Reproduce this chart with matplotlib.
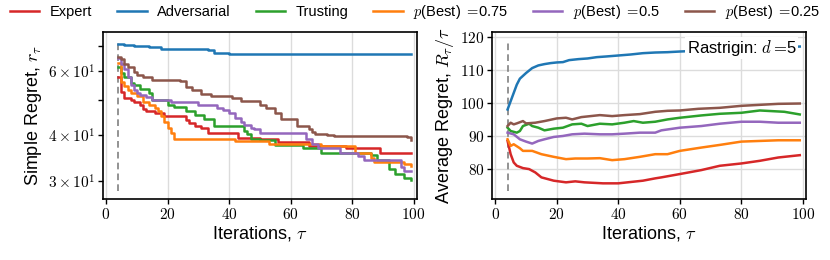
import matplotlib
matplotlib.use("Agg")
import matplotlib.pyplot as plt
from matplotlib.ticker import FuncFormatter, FixedLocator, NullFormatter
import numpy as np

plt.rcParams['font.family'] = ['Liberation Sans', 'DejaVu Sans']
plt.rcParams['mathtext.fontset'] = 'cm'

labels = ["Expert", "Adversarial", "Trusting",
          r"$p$(Best) $=\!$0.75", r"$p$(Best) $=\!$0.5", r"$p$(Best) $=\!$0.25"]
colors = ["#d62728", "#1f77b4", "#2ca02c", "#ff7f0e", "#9467bd", "#8c564b"]

# simple regret: step change points (iteration, value)
simple_expert = [(4, 57.5), (5, 52.5), (6, 50.5), (8, 50.0), (9, 49.4), (11, 48.5), (12, 47.3),
                 (13, 46.5), (16, 46.0), (19, 45.1), (26, 44.0), (27, 43.3), (29, 42.5), (31, 41.8),
                 (33, 40.7), (43, 39.3), (50, 39.1), (56, 38.3), (66, 37.4), (78, 37.0), (89, 35.9),
                 (99, 35.7)]
simple_adversarial = [(4, 70.8), (6, 70.5), (9, 70.2), (14, 69.5), (18, 68.7), (33, 68.3),
                      (35, 67.2), (40, 66.8), (70, 66.7), (99, 66.6)]
simple_trusting = [(4, 61.5), (5, 59.2), (6, 57.8), (8, 55.6), (9, 54.9), (11, 53.5), (14, 52.1),
                   (15, 50.0), (20, 48.5), (22, 47.9), (26, 46.6), (29, 45.4), (32, 44.2), (35, 42.3),
                   (45, 41.1), (46, 40.3), (47, 39.2), (50, 38.8), (55, 37.6), (64, 37.0), (70, 35.9),
                   (86, 35.3), (88, 34.2), (92, 32.3), (94, 31.3), (97, 30.6), (99, 30.3)]
simple_p075 = [(4, 62.8), (5, 56.0), (6, 54.5), (7, 53.2), (8, 52.1), (10, 51.1), (12, 49.4),
               (14, 48.5), (16, 47.6), (17, 46.5), (18, 45.1), (19, 43.6), (20, 41.8), (21, 40.5),
               (22, 39.2), (40, 39.0), (42, 38.6), (53, 37.9), (70, 37.3), (81, 35.9), (86, 34.8),
               (87, 33.9), (97, 33.5), (99, 33.0)]
simple_p05 = [(4, 64.8), (5, 62.5), (6, 60.5), (7, 57.6), (8, 55.0), (9, 53.2), (10, 52.1),
              (11, 51.6), (13, 51.0), (15, 50.0), (21, 49.4), (30, 48.3), (36, 47.4), (38, 47.0),
              (40, 46.0), (42, 44.6), (44, 43.4), (45, 42.6), (47, 42.0), (48, 41.5), (50, 40.7),
              (65, 39.0), (67, 38.0), (69, 37.0), (76, 35.9), (82, 35.2), (84, 34.3), (96, 32.9),
              (97, 31.9), (99, 31.9)]
simple_p025 = [(4, 65.5), (5, 64.5), (6, 62.5), (7, 61.5), (9, 59.5), (10, 58.4), (12, 57.8),
               (15, 56.6), (24, 56.1), (26, 54.2), (28, 53.2), (31, 52.0), (34, 51.3), (41, 50.5),
               (44, 49.6), (50, 48.4), (52, 47.4), (55, 46.0), (57, 44.3), (62, 42.5), (66, 41.7),
               (67, 40.8), (68, 40.3), (72, 40.0), (74, 39.8), (98, 39.7), (99, 38.8)]

# average regret: (iteration, value)
avg_expert = [(4, 88.5), (5, 84.5), (6, 82.0), (7, 81.0), (9, 80.3), (11, 80.0), (13, 79.0),
              (15, 77.5), (19, 76.5), (23, 76.0), (26, 76.3), (29, 76.0), (35, 75.7), (40, 75.7),
              (43, 76.0), (48, 76.5), (52, 77.2), (54, 77.5), (60, 78.5), (67, 79.7), (73, 81.0),
              (80, 81.7), (86, 82.5), (92, 83.5), (99, 84.2)]
avg_adversarial = [(4, 98.0), (5, 100.5), (6, 103.0), (7, 105.5), (8, 107.3), (10, 109.0),
                   (12, 110.5), (14, 111.3), (16, 111.7), (18, 112.0), (20, 112.2), (22, 112.3),
                   (24, 112.9), (27, 113.2), (30, 113.4), (33, 113.8), (36, 114.0), (40, 114.3),
                   (44, 114.6), (48, 115.0), (52, 115.2), (56, 115.3), (60, 115.5), (70, 115.9),
                   (80, 116.3), (90, 116.7), (99, 117.0)]
avg_trusting = [(4, 92.5), (5, 91.5), (7, 91.0), (8, 91.5), (9, 93.0), (11, 93.7), (12, 93.0),
                (14, 92.5), (16, 91.7), (19, 92.2), (22, 92.5), (25, 93.5), (28, 93.7), (30, 93.0),
                (34, 93.7), (38, 93.5), (42, 94.0), (45, 94.5), (48, 94.0), (52, 94.3), (56, 95.0),
                (60, 95.5), (67, 96.2), (73, 96.7), (80, 97.0), (86, 97.7), (90, 97.5), (94, 97.3),
                (99, 96.5)]
avg_p075 = [(4, 89.0), (5, 87.0), (6, 87.5), (8, 86.3), (9, 85.5), (12, 85.5), (15, 84.5),
            (19, 83.7), (23, 83.0), (26, 83.2), (30, 83.2), (34, 83.3), (38, 82.7), (42, 83.0),
            (47, 83.7), (52, 84.5), (56, 84.5), (60, 85.5), (67, 86.5), (73, 87.3), (80, 88.3),
            (86, 88.5), (92, 88.7), (99, 88.7)]
avg_p05 = [(4, 91.0), (6, 90.5), (8, 89.0), (10, 88.3), (12, 87.7), (14, 88.5), (16, 89.0),
           (19, 89.7), (22, 90.0), (25, 90.5), (29, 90.7), (34, 90.5), (38, 90.5), (42, 90.7),
           (47, 91.0), (52, 91.0), (54, 91.7), (60, 92.5), (67, 93.0), (73, 93.7), (80, 94.3),
           (86, 94.3), (92, 94.0), (99, 94.0)]
avg_p025 = [(4, 93.0), (5, 94.0), (6, 93.5), (7, 93.8), (9, 94.5), (10, 93.8), (13, 94.0),
            (16, 94.5), (20, 95.3), (23, 95.5), (25, 95.0), (28, 95.7), (31, 96.0), (34, 96.3),
            (38, 96.0), (42, 96.3), (47, 96.6), (52, 97.3), (56, 97.6), (60, 97.7), (66, 98.2),
            (73, 98.5), (80, 99.1), (86, 99.4), (92, 99.7), (99, 99.8)]

simple_all = [simple_expert, simple_adversarial, simple_trusting, simple_p075, simple_p05, simple_p025]
avg_all = [avg_expert, avg_adversarial, avg_trusting, avg_p075, avg_p05, avg_p025]

x_ticks = [0, 20, 40, 60, 80, 100]
avg_ticks = [80, 90, 100, 110, 120]
log_minor = [30, 40, 50, 60, 70]
log_labelled = [30, 40, 60]

fig = plt.figure(figsize=(8.3, 2.6), dpi=100)
ax1 = fig.add_axes([0.124, 0.235, 0.378, 0.642])
ax2 = fig.add_axes([0.593, 0.235, 0.378, 0.642])

for s, c, lab in zip(simple_all, colors, labels):
    x, y = np.array(s).T
    ax1.step(x, y, where='post', color=c, lw=1.8, label=lab)
for s, c in zip(avg_all, colors):
    x, y = np.array(s).T
    ax2.plot(x, y, color=c, lw=1.8)

ax1.set_yscale('log')
ax1.set_ylim(26.85, 76.5)
ax1.yaxis.set_minor_locator(FixedLocator(log_minor))
ax1.yaxis.set_major_formatter(NullFormatter())
ax1.yaxis.set_minor_formatter(FuncFormatter(
    lambda v, p: r"$%d\times10^{1}$" % round(v / 10) if round(v) in log_labelled else ""))

ax2.set_ylim(71, 121.4)
ax2.set_yticks(avg_ticks)
ax2.yaxis.set_major_formatter(FuncFormatter(lambda v, p: r"$%d$" % v))

for ax in (ax1, ax2):
    ax.set_xlim(-1, 101)
    ax.set_xticks(x_ticks)
    ax.xaxis.set_major_formatter(FuncFormatter(lambda v, p: r"$%d$" % v))
    ax.axvline(4, ymin=0.05, ymax=0.95, color='gray', ls='--', lw=1.2, dashes=(4, 2.5), zorder=1)
    ax.grid(True, color='#dcdcdc', lw=1.0, zorder=0)
    ax.set_axisbelow(True)
    ax.tick_params(which='both', direction='out', length=3.5, width=1, labelsize=11, pad=2)
    for sp in ax.spines.values():
        sp.set_linewidth(1.2)
        sp.set_color('black')
    ax.set_xlabel(r"Iterations, $\tau$", fontsize=13, labelpad=2)

ax1.set_ylabel(r"Simple Regret, $r_\tau$", fontsize=13, labelpad=3)
ax2.set_ylabel(r"Average Regret, $R_\tau/\tau$", fontsize=13, labelpad=3)

ax2.text(0.972, 0.905, r"Rastrigin: $d=\!$5", transform=ax2.transAxes, ha='right', va='center',
         fontsize=12, bbox=dict(fc='white', ec='none', pad=1.0), zorder=5)

fig.legend(loc='center', bbox_to_anchor=(0.5, 0.954), ncol=6, frameon=False,
           fontsize=10.5, handlelength=2.0, columnspacing=1.72, handletextpad=0.72,
           borderpad=0.2)

fig.savefig("out.png", dpi=100)
